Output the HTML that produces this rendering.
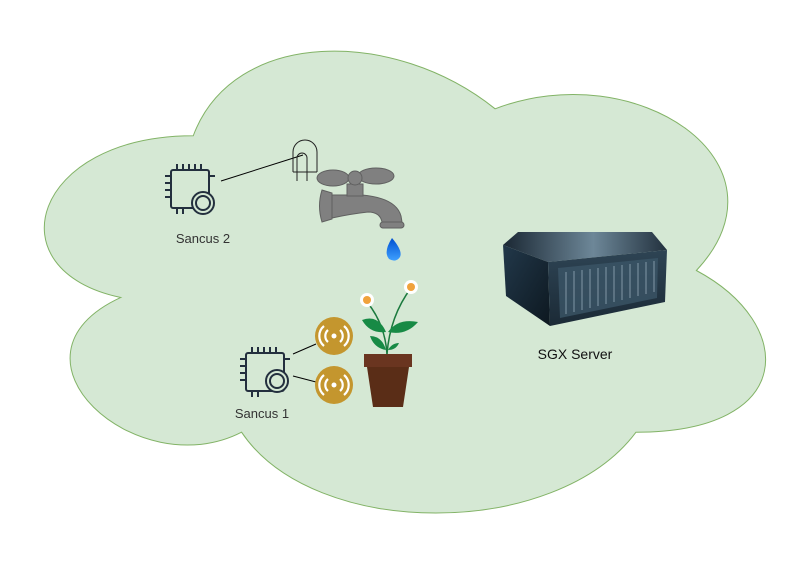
<!DOCTYPE html>
<html><head><style>
body{margin:0;background:#fff;}
svg{display:block;font-family:"Liberation Sans",sans-serif;}
</style></head><body>
<svg width="802" height="572" viewBox="0 0 802 572">
<defs>
<linearGradient id="top" x1="0" y1="0" x2="1" y2="0"><stop offset="0" stop-color="#1a2733"/><stop offset="0.55" stop-color="#6d8798"/><stop offset="1" stop-color="#22313e"/></linearGradient>
<linearGradient id="front" x1="0" y1="0" x2="0" y2="1"><stop offset="0" stop-color="#2e4454"/><stop offset="1" stop-color="#1b2a36"/></linearGradient>
<linearGradient id="side" x1="0" y1="0" x2="1" y2="1"><stop offset="0" stop-color="#22384a"/><stop offset="1" stop-color="#0d1820"/></linearGradient>
<linearGradient id="drop" x1="0" y1="0" x2="0" y2="1"><stop offset="0" stop-color="#0050d0"/><stop offset="1" stop-color="#3fa0ff"/></linearGradient>
</defs>
<g transform="translate(-8,1) scale(805,539)">
<path d="M0.25,0.25 C0.05,0.25 0,0.5 0.16,0.55 C0,0.66 0.18,0.9 0.31,0.8 C0.4,1 0.7,1 0.8,0.8 C1,0.8 1,0.6 0.875,0.5 C1,0.3 0.8,0.1 0.625,0.2 C0.5,0.05 0.3,0.05 0.25,0.25 Z" fill="#d5e8d4" stroke="#82b366" stroke-width="1" vector-effect="non-scaling-stroke"/>
</g>
<!-- chip 2 -->
<g stroke="#232f3e" stroke-width="2" fill="none">
<rect x="171" y="170" width="38" height="38" rx="2"/>
<path d="M177,170v-6M183,170v-6M189,170v-6M195,170v-6M201,170v-6M171,176h-6M171,183h-6M171,190h-6M171,197h-6M209,176h6M177,208v6M183,208v6"/>
<circle cx="203" cy="203" r="11" fill="#d5e8d4"/><circle cx="203" cy="203" r="7"/>
</g>
<text x="203" y="243" font-size="13" fill="#333" text-anchor="middle">Sancus 2</text>
<line x1="221" y1="181" x2="303" y2="155" stroke="#000" stroke-width="1"/>
<g stroke="#222" stroke-width="1" fill="none"><path d="M293,172v-20a12,12 0 0 1 24,0v20"/><path d="M297,181v-23a5,5 0 0 1 10,0v23"/><line x1="293" y1="172" x2="317" y2="172"/></g>
<!-- tap -->
<g fill="#808080" stroke="#606060" stroke-width="1">
<path d="M332,195 L362,195 Q396,198 401,216 L402,222 L382,222 Q380,212 368,212 Q350,214 332,218 Z"/>
<path d="M322,190 q-5,16 0,32 l10,-3 l0,-26z"/>
<rect x="347" y="184" width="16" height="12"/>
<ellipse cx="333" cy="178" rx="16" ry="8"/>
<ellipse cx="376" cy="176" rx="18" ry="8"/>
<circle cx="355" cy="178" r="7"/>
<rect x="380" y="222" width="24" height="6" rx="3"/>
</g>
<path d="M392,238 q-9,14 -3,21 q7,4 11,-2 q3,-6 -8,-19z" fill="url(#drop)"/>
<!-- chip 1 -->
<g stroke="#232f3e" stroke-width="2" fill="none">
<rect x="246" y="353" width="38" height="38" rx="2"/>
<path d="M252,353v-6M258,353v-6M264,353v-6M270,353v-6M276,353v-6M246,359h-6M246,366h-6M246,373h-6M246,380h-6M284,359h6M252,391v6M258,391v6"/>
<circle cx="277" cy="381" r="11" fill="#d5e8d4"/><circle cx="277" cy="381" r="7"/>
</g>
<text x="262" y="418" font-size="13" fill="#333" text-anchor="middle">Sancus 1</text>
<line x1="293" y1="354" x2="316" y2="344" stroke="#000"/>
<line x1="293" y1="376" x2="316" y2="382" stroke="#000"/>
<g>
<circle cx="334" cy="336" r="19" fill="#c4962e"/>
<circle cx="334" cy="385" r="19" fill="#c4962e"/>
<g stroke="#fff" stroke-width="2.2" fill="none">
<path d="M328,330a8,8 0 0 0 0,12M340,330a8,8 0 0 1 0,12M324,326a13,13 0 0 0 0,20M344,326a13,13 0 0 1 0,20"/>
<path d="M328,379a8,8 0 0 0 0,12M340,379a8,8 0 0 1 0,12M324,375a13,13 0 0 0 0,20M344,375a13,13 0 0 1 0,20"/>
</g>
<circle cx="334" cy="336" r="2.5" fill="#fff"/><circle cx="334" cy="385" r="2.5" fill="#fff"/>
</g>
<!-- plant -->
<g stroke="#1b7a3e" stroke-width="1.5" fill="none"><path d="M387,354 q-2,-30 -20,-52"/><path d="M387,354 q3,-38 24,-66"/></g>
<g fill="#178a45"><path d="M362,320 q16,-6 24,12 q-16,2 -24,-12z"/><path d="M388,332 q10,-14 30,-10 q-12,14 -30,10z"/><path d="M370,336 q12,0 16,14 q-12,-2 -16,-14z"/><path d="M388,350 q4,-7 11,-7 q-3,7 -11,7z"/></g>
<circle cx="367" cy="300" r="7" fill="#fff"/><circle cx="367" cy="300" r="4" fill="#f0a23c"/>
<circle cx="411" cy="287" r="7" fill="#fff"/><circle cx="411" cy="287" r="4" fill="#f0a23c"/>
<path d="M364,354h48v13h-3l-6,40h-30l-6,-40h-3z" fill="#5a2d17"/>
<rect x="364" y="354" width="48" height="13" fill="#6a3520"/>
<!-- server -->
<path d="M503,245 L518,232 L652,232 L667,250 L548,262z" fill="url(#top)"/>
<path d="M503,245 L548,262 L550,326 L506,296z" fill="url(#side)"/>
<path d="M548,262 L667,250 L665,302 L550,326z" fill="url(#front)"/>
<path d="M558,268 L658,258 L657,298 L560,318z" fill="#3b5566" opacity="0.8"/>
<g stroke="#a9bccb" stroke-width="1.2" opacity="0.55">
<path d="M566,272v42M574,271v41M582,270v40M590,269v39M598,268v38M606,267v37M614,266v36M622,265v35M630,264v34M638,263v33M646,262v32M654,261v31"/>
</g>
<text x="575" y="359" font-size="14" fill="#111" text-anchor="middle">SGX Server</text>
</svg>
</body></html>
